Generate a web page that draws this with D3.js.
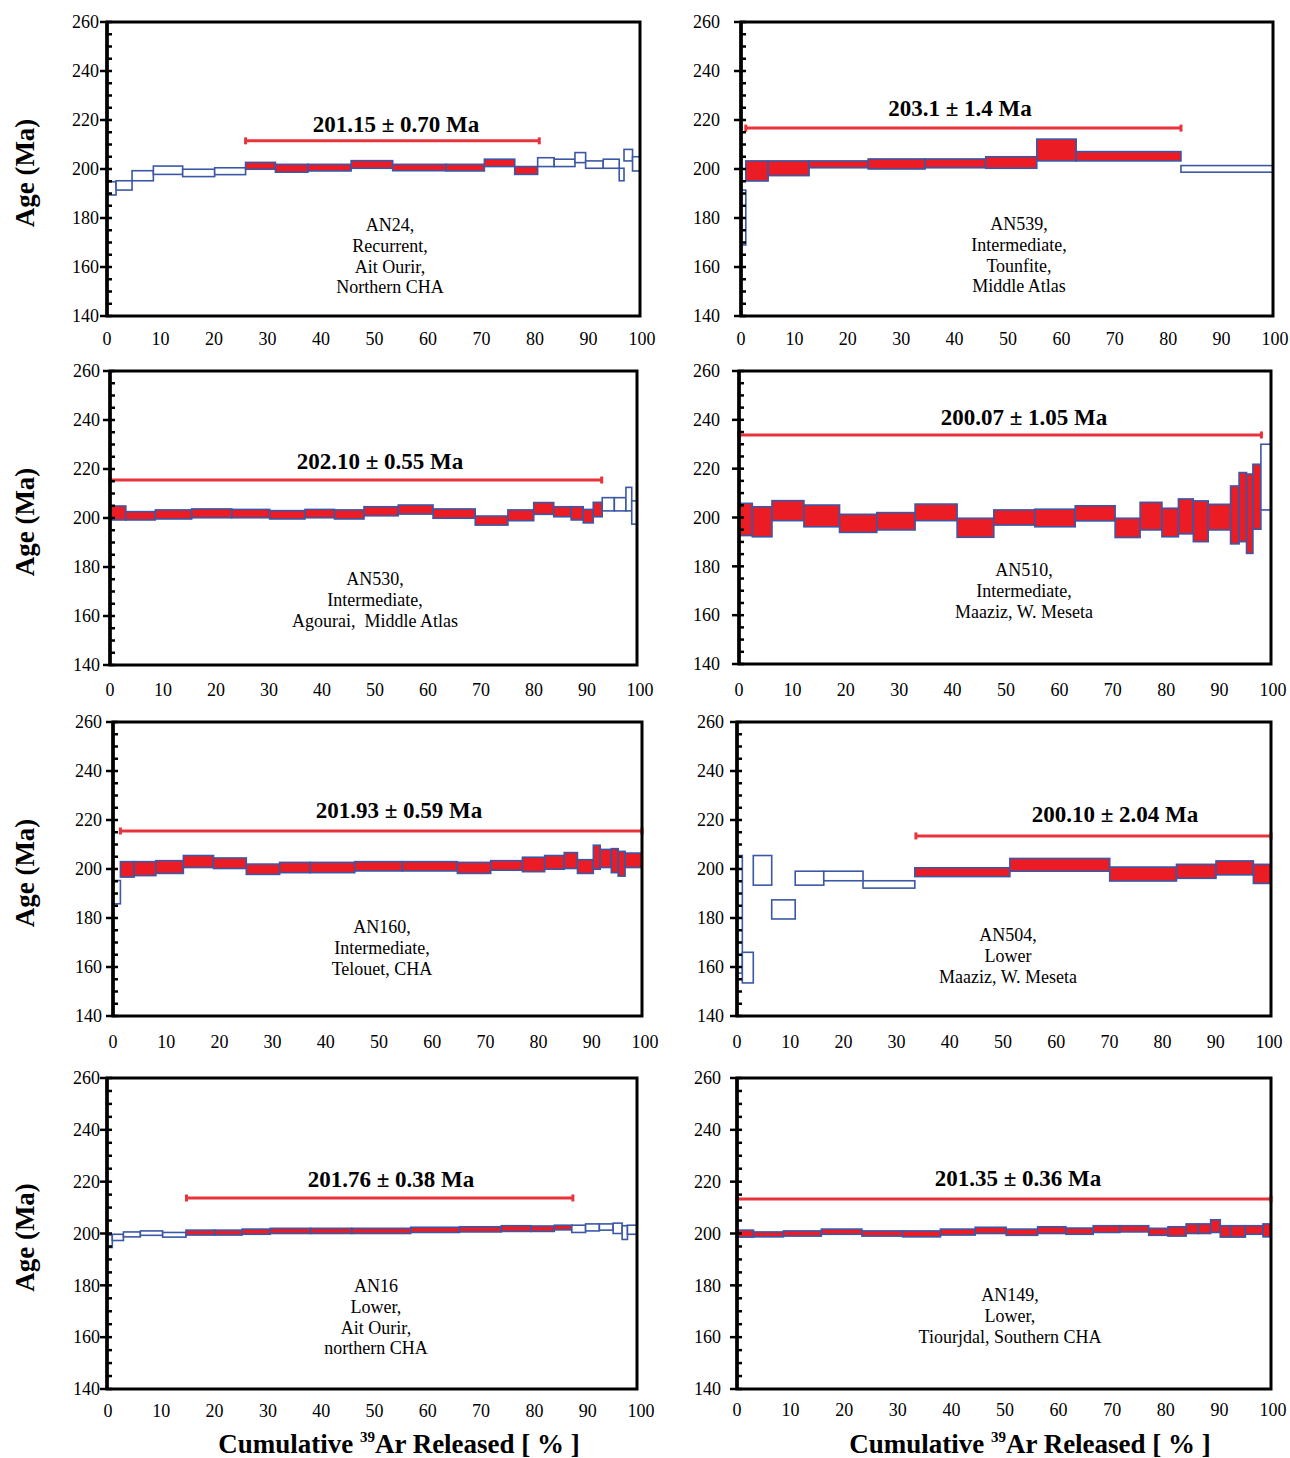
<!DOCTYPE html>
<html><head><meta charset="utf-8">
<script src="https://cdn.jsdelivr.net/npm/d3@7"></script>
<style>body{margin:0;background:#fff}svg{display:block}</style>
</head><body><svg id="c" width="1290" height="1458"></svg>
<script>
// ---------------- DATA ----------------
const xTicks=[0,10,20,30,40,50,60,70,80,90,100];
const yTicks=[140,160,180,200,220,240,260];
const yMinorTicks=[145,150,155,165,170,175,185,190,195,205,210,215,225,230,235,245,250,255];

// step: [cum39Ar from %, to %, age low, age high, in plateau (1/0)]
const an24Steps=[[0,1.7,189.4,194.8,0],[1.7,4.7,191.4,195.2,0],[4.7,8.7,195.2,199.3,0],[8.7,14.2,197.8,201.2,0],[14.2,20.2,196.9,199.9,0],[20.2,26,197.7,200.5,0],[26,31.6,199.9,202.7,1],[31.6,37.7,198.7,201.9,1],[37.7,45.8,199.2,201.9,1],[45.8,53.6,200.3,203.4,1],[53.6,63.6,199.3,201.9,1],[63.6,70.8,199.2,201.9,1],[70.8,76.5,201,204,1],[76.5,80.8,197.8,201,1],[80.8,83.9,201,204.6,0],[83.9,87.8,201,204,0],[87.8,89.8,202.6,206.7,0],[89.8,93.1,200.3,203.3,0],[93.1,96.1,200.3,204,0],[96.1,97,195.2,200.3,0],[97,98.6,203.3,208,0],[98.6,100,199.2,205,0]];
const an539Steps=[[0,0.9,169,191.4,0],[0.9,5.1,195.1,203.3,1],[5.1,12.8,197.3,203.3,1],[12.8,23.9,200.5,203.3,1],[23.9,34.6,200,204.1,1],[34.6,46,200.5,204.1,1],[46,55.6,200.3,205,1],[55.6,63,203.3,212.2,1],[63,82.7,203.3,207.1,1],[82.7,100,198.7,201.4,0]];
const an530Steps=[[0,3,199.2,204.9,1],[3,8.6,199.2,202.6,1],[8.6,15.5,199.6,203.3,1],[15.5,23.1,200.1,203.7,1],[23.1,30.3,200.1,203.5,1],[30.3,37,199.6,203,1],[37,42.6,200.1,203.5,1],[42.6,48.2,199.6,203.3,1],[48.2,54.7,200.9,204.6,1],[54.7,61.3,201.6,205.3,1],[61.3,69.3,199.9,203.7,1],[69.3,75.5,197.1,200.8,1],[75.5,80.4,198.9,203.3,1],[80.4,84.2,201.5,206.3,1],[84.2,87.5,200.5,204.6,1],[87.5,89.8,199.2,204.6,1],[89.8,91.7,198,203.5,1],[91.7,93.4,200.5,206.4,1],[93.4,95.7,202.9,208.3,0],[95.7,97.9,202.9,208.3,0],[97.9,99,202.9,212.5,0],[99,100,197.5,207,0]];
const an510Steps=[[0,2.5,192.6,205.8,1],[2.5,6.2,192.1,204.4,1],[6.2,12.2,198.7,206.9,1],[12.2,18.9,196.2,205.1,1],[18.9,25.9,193.9,201.3,1],[25.9,33.1,194.9,202,1],[33.1,41,198.7,205.5,1],[41,47.9,191.9,199.7,1],[47.9,55.6,196.9,203.1,1],[55.6,63.2,196.2,203.4,1],[63.2,70.7,198.6,204.8,1],[70.7,75.4,191.8,199.7,1],[75.4,79.5,194.9,206.2,1],[79.5,82.6,192.1,203.8,1],[82.6,85.4,193.3,207.6,1],[85.4,88.2,190.1,206.8,1],[88.2,92.4,194.9,205.4,1],[92.4,94,189.2,212.9,1],[94,95.4,190.1,218.4,1],[95.4,96.6,185.3,217.8,1],[96.6,98.1,195.2,221.8,1],[98.1,100,203.1,230,0]];
const an160Steps=[[0,1.4,185.8,195.3,0],[1.4,4,196.7,203,1],[4,8.1,197.3,203,1],[8.1,13.3,198.2,203.4,1],[13.3,19,200.6,205.5,1],[19,25.2,200.2,204.5,1],[25.2,31.5,197.8,202,1],[31.5,37.3,198.5,202.7,1],[37.3,45.7,198.5,202.7,1],[45.7,54.7,199.2,203,1],[54.7,65.1,199.2,203,1],[65.1,71.4,198.2,202.7,1],[71.4,77.4,199.5,203.4,1],[77.4,81.6,198.9,204.8,1],[81.6,85.3,199.9,205.5,1],[85.3,87.8,200.2,206.7,1],[87.8,90.8,198.2,203.8,1],[90.8,92.1,199.9,209.7,1],[92.1,94.2,200.6,208,1],[94.2,95.5,198.5,208.3,1],[95.5,96.8,197.1,207.2,1],[96.8,100,200.6,206.5,1]];
const an504Steps=[[0,1,157.5,205.5,0],[1,3.05,153.5,166,0],[3.05,6.5,193.4,205.5,0],[6.5,10.9,179.6,187.4,0],[10.9,16.25,193.4,199.1,0],[16.25,23.6,195.2,199.1,0],[23.6,33.3,192.2,195.2,0],[33.3,51.1,196.9,200.5,1],[51.1,69.8,199.1,204.3,1],[69.8,82.3,195.1,200.8,1],[82.3,89.7,196.2,201.9,1],[89.7,96.7,197.6,203.3,1],[96.7,100,194.1,201.9,1]];
const an16Steps=[[0,1,194.6,199.4,0],[1,3.1,197.3,199.7,0],[3.1,6.3,198.7,200.6,0],[6.3,10.5,199.3,201,0],[10.5,14.9,198.6,200.4,0],[14.9,20.3,199.4,201.3,1],[20.3,25.5,199.4,201.3,1],[25.5,30.8,199.7,201.7,1],[30.8,38.4,200,202,1],[38.4,46.2,200,202,1],[46.2,57.3,200,202,1],[57.3,66.5,200.4,202.4,1],[66.5,74.4,200.6,202.6,1],[74.4,80,200.8,203,1],[80,84.4,200.8,202.9,1],[84.4,87.7,201.4,203.2,1],[87.7,90.3,200.4,203.2,0],[90.3,92.9,201,203.7,0],[92.9,95.5,201.3,203.7,0],[95.5,97.2,200,204,0],[97.2,98.2,197.7,203,0],[98.2,100,199.7,203.2,0]];
const an149Steps=[[0,3.1,198.6,201.3,1],[3.1,8.7,198.7,200.6,1],[8.7,15.8,199,201,1],[15.8,23.4,199.7,201.7,1],[23.4,31,199,201,1],[31,38.1,198.7,201,1],[38.1,44.6,199.4,201.7,1],[44.6,50.4,200,202.4,1],[50.4,56.3,199.3,201.7,1],[56.3,61.6,200,202.6,1],[61.6,66.7,199.7,202.1,1],[66.7,71.7,200.4,203,1],[71.7,77.1,200.6,203,1],[77.1,80.7,199.3,202,1],[80.7,84.1,199,202.6,1],[84.1,86.4,200,203.7,1],[86.4,88.7,200,203.7,1],[88.7,90.5,200.4,205.3,1],[90.5,92.4,198.6,203,1],[92.4,95.2,198.6,203,1],[95.2,98.5,199.7,203,1],[98.5,100,198.7,203.7,1]];

// plateau: [age text, error text, from %, to %, age level of bar]
const an24Plateau=["201.15","0.70",26,81.1,211.5];
const an539Plateau=["203.1","1.4",0.9,82.7,216.7];
const an530Plateau=["202.10","0.55",0,93.3,215.5];
const an510Plateau=["200.07","1.05",0,98.2,233.8];
const an160Plateau=["201.93","0.59",1.4,100,215.5];
const an504Plateau=["200.10","2.04",33.5,100,213.5];
const an16Plateau=["201.76","0.38",15,87.9,213.7];
const an149Plateau=["201.35","0.36",0,100,213.3];

const an24Label=["AN24,","Recurrent,","Ait Ourir,","Northern CHA"];
const an539Label=["AN539,","Intermediate,","Tounfite,","Middle Atlas"];
const an530Label=["AN530,","Intermediate,","Agourai,\u00a0\u00a0Middle Atlas"];
const an510Label=["AN510,","Intermediate,","Maaziz, W. Meseta"];
const an160Label=["AN160,","Intermediate,","Telouet, CHA"];
const an504Label=["AN504,","Lower","Maaziz, W. Meseta"];
const an16Label=["AN16","Lower,","Ait Ourir,","northern CHA"];
const an149Label=["AN149,","Lower,","Tiourjdal, Southern CHA"];

// ---------------- LAYOUT ----------------
const layouts=[
 {l:107,r:640,t:22,b:316,ylabX:99,xlabY:345,lx0:107,lx100:642,plX:396,plY:124,smX:390,smY:225,title:true},
 {l:741,r:1273,t:22,b:316,ylabX:720,xlabY:345,lx0:741,lx100:1275,plX:960,plY:108,smX:1019,smY:224},
 {l:110,r:637,t:371,b:665,ylabX:100,xlabY:696,lx0:110,lx100:640,plX:380,plY:461,smX:375,smY:579,title:true},
 {l:739,r:1271,t:371,b:664,ylabX:720,xlabY:696,lx0:739,lx100:1273,plX:1024,plY:417,smX:1024,smY:570},
 {l:113,r:642,t:722,b:1016,ylabX:102,xlabY:1048,lx0:113,lx100:645,plX:399,plY:810,smX:382,smY:927,title:true},
 {l:737,r:1271,t:722,b:1016,ylabX:724,xlabY:1048,lx0:737,lx100:1269,plX:1115,plY:814,smX:1008,smY:935},
 {l:107,r:637,t:1078,b:1389,ylabX:100,xlabY:1417,lx0:108,lx100:641,plX:391,plY:1179,smX:376,smY:1286,title:true},
 {l:737,r:1271,t:1078,b:1389,ylabX:721,xlabY:1416,lx0:737,lx100:1273,plX:1018,plY:1178,smX:1010,smY:1295}
];
const panelData=[
 [an24Steps,an24Plateau,an24Label],[an539Steps,an539Plateau,an539Label],
 [an530Steps,an530Plateau,an530Label],[an510Steps,an510Plateau,an510Label],
 [an160Steps,an160Plateau,an160Label],[an504Steps,an504Plateau,an504Label],
 [an16Steps,an16Plateau,an16Label],[an149Steps,an149Plateau,an149Label]
];

const FONT='"Liberation Serif","Times New Roman",Times,serif';
const RED='#ec1c24', BLUE='#3b57a6', LINE='#e8333a';
const svg=d3.select('#c').style('font-family',FONT);

panelData.forEach(([steps,plat,label],i)=>{
  const L=layouts[i];
  const x=d3.scaleLinear().domain([0,100]).range([L.l,L.r]);
  const xl=d3.scaleLinear().domain([0,100]).range([L.lx0,L.lx100]);
  const y=d3.scaleLinear().domain([140,260]).range([L.b,L.t]);
  const g=svg.append('g');

  g.selectAll('rect.step').data(steps).join('rect').attr('class','step')
   .attr('x',d=>x(d[0])).attr('width',d=>x(d[1])-x(d[0]))
   .attr('y',d=>y(d[3])).attr('height',d=>y(d[2])-y(d[3]))
   .attr('fill',d=>d[4]?RED:'#fff').attr('stroke',BLUE).attr('stroke-width',1.6);

  g.append('line').attr('x1',x(plat[2])).attr('x2',x(plat[3]))
   .attr('y1',y(plat[4])).attr('y2',y(plat[4]))
   .attr('stroke',LINE).attr('stroke-width',3);
  [plat[2],plat[3]].forEach(v=>{
    g.append('line').attr('x1',x(v)).attr('x2',x(v))
     .attr('y1',y(plat[4])-3.5).attr('y2',y(plat[4])+3.5)
     .attr('stroke',LINE).attr('stroke-width',3);
  });
  g.append('text').attr('x',L.plX).attr('y',L.plY).attr('dy','0.35em')
   .attr('text-anchor','middle').attr('font-weight','bold').attr('font-size',23)
   .text(`${plat[0]} \u00b1 ${plat[1]} Ma`);

  g.selectAll('text.sm').data(label).join('text').attr('class','sm')
   .attr('x',L.smX).attr('y',(d,j)=>L.smY+j*20.6).attr('dy','0.35em')
   .attr('text-anchor','middle').attr('font-size',18).text(d=>d);

  g.append('rect').attr('x',L.l).attr('y',L.t).attr('width',L.r-L.l).attr('height',L.b-L.t)
   .attr('fill','none').attr('stroke','#000').attr('stroke-width',3);
  g.append('line').attr('x1',L.l).attr('x2',L.l).attr('y1',L.t-1).attr('y2',L.b+1)
   .attr('stroke','#000').attr('stroke-width',3.5);
  g.selectAll('line.maj').data(yTicks).join('line').attr('class','maj')
   .attr('x1',L.l-7).attr('x2',L.l+5).attr('y1',d=>y(d)).attr('y2',d=>y(d))
   .attr('stroke','#000').attr('stroke-width',2.5);
  g.selectAll('line.min').data(yMinorTicks).join('line').attr('class','min')
   .attr('x1',L.l).attr('x2',L.l+5).attr('y1',d=>y(d)).attr('y2',d=>y(d))
   .attr('stroke','#000').attr('stroke-width',2.5);
  g.selectAll('text.yl').data(yTicks).join('text').attr('class','yl')
   .attr('x',L.ylabX).attr('y',d=>y(d)).attr('dy','0.35em')
   .attr('text-anchor','end').attr('font-size',18).text(d=>d);
  g.selectAll('text.xl').data(xTicks).join('text').attr('class','xl')
   .attr('x',d=>xl(d)).attr('y',L.xlabY)
   .attr('text-anchor','middle').attr('font-size',18).text(d=>d);

  if(L.title){
    const cy=(L.t+L.b)/2+4;
    g.append('text').attr('transform',`translate(25,${cy}) rotate(-90)`)
     .attr('dy','0.35em').attr('text-anchor','middle')
     .attr('font-weight','bold').attr('font-size',27).text('Age (Ma)');
  }
});

[399,1030].forEach(cx=>{
  const t=svg.append('text').attr('x',cx).attr('y',1453).attr('text-anchor','middle')
   .attr('font-weight','bold').attr('font-size',27);
  t.append('tspan').text('Cumulative ');
  t.append('tspan').attr('font-size',15).attr('dy',-11).text('39');
  t.append('tspan').attr('dy',11).text('Ar Released [ % ]');
});
</script></body></html>
